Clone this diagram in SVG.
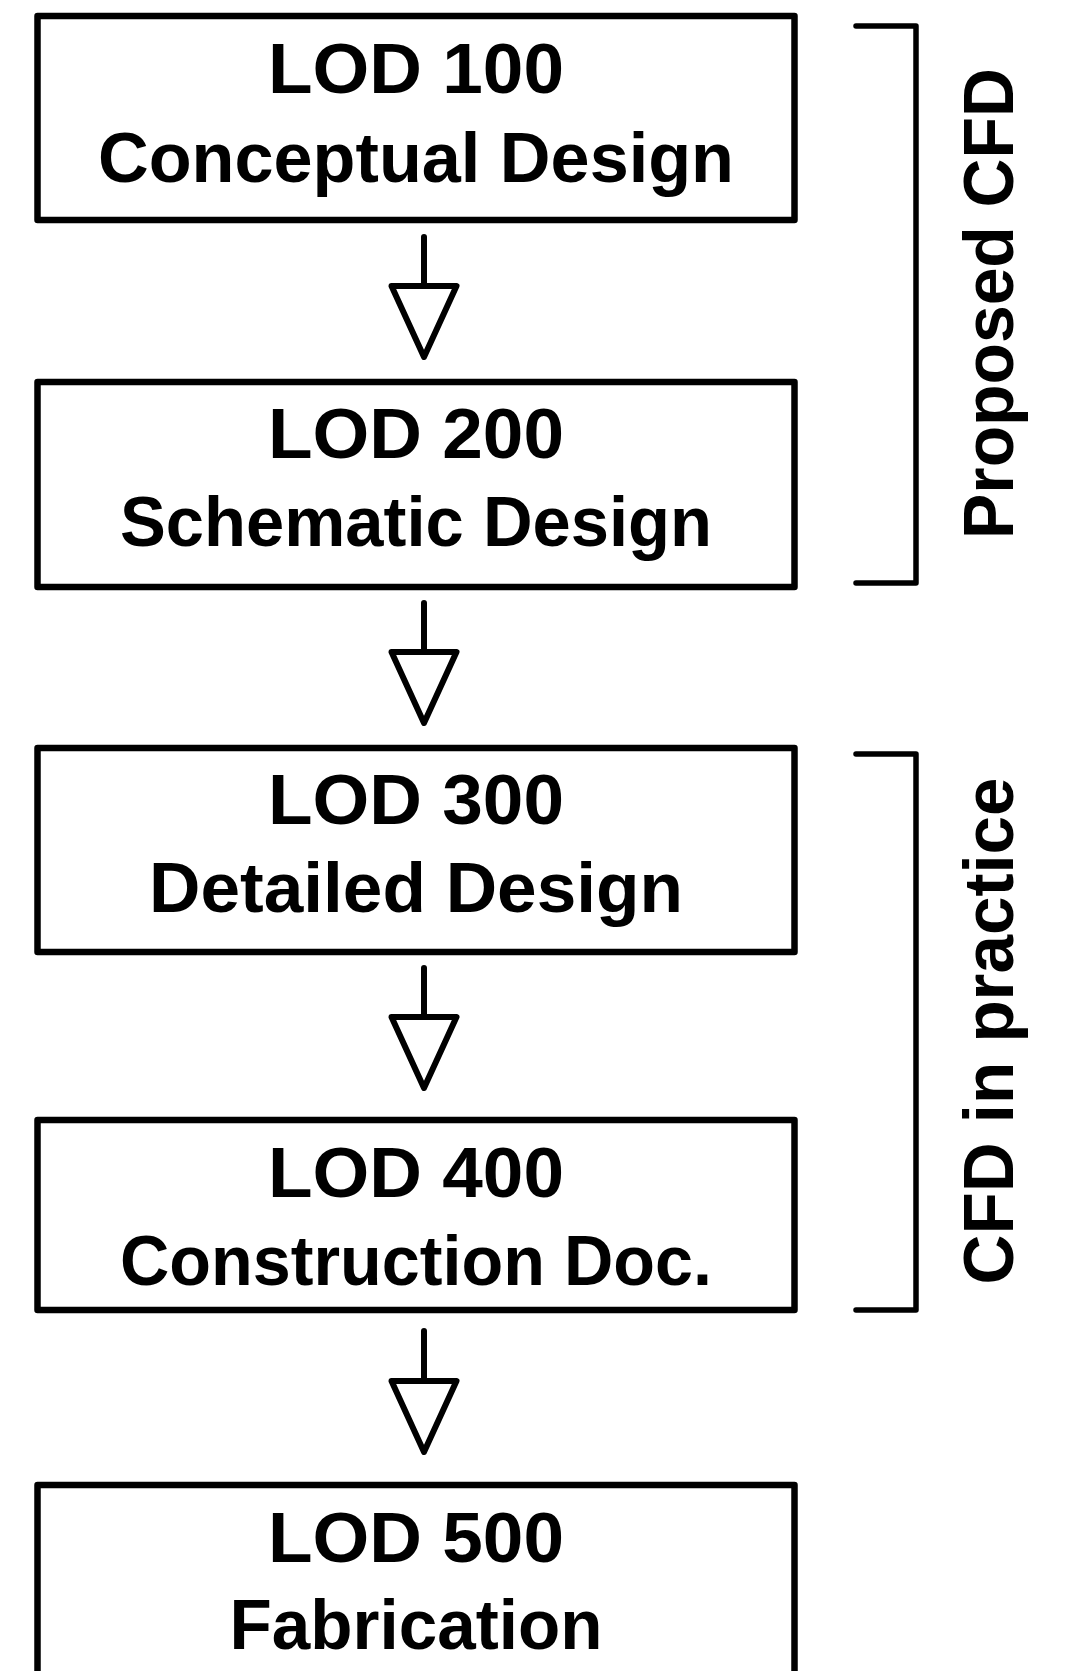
<svg xmlns="http://www.w3.org/2000/svg" width="1077" height="1671" viewBox="0 0 1077 1671">
  <style>
    .box { fill: #ffffff; stroke: #000000; stroke-width: 6.5; stroke-linejoin: round; }
    .lbl { font-family: "Liberation Sans", Arial, sans-serif; font-weight: bold; font-size: 70px; fill: #000000; text-anchor: middle; }
    .stem { stroke: #000000; stroke-width: 6; stroke-linecap: round; fill: none; }
    .bracket { stroke: #000000; stroke-width: 5.5; stroke-linecap: round; stroke-linejoin: round; fill: none; }
  </style>
  <defs>
    <!-- open triangular arrowhead, drawn below the end of each stem -->
    <marker id="openHead" markerUnits="userSpaceOnUse" orient="auto" refX="0" refY="0" markerWidth="100" markerHeight="100" overflow="visible">
      <path d="M0,-32.5 L0,32.5 L71,0 Z" fill="#ffffff" stroke="#000000" stroke-width="6" stroke-linejoin="round"/>
    </marker>
  </defs>
  <rect width="1077" height="1671" fill="#ffffff"/>

  <g id="lod100">
    <rect class="box" x="37.5" y="16" width="757" height="204"/>
    <text class="lbl" x="416" y="93" textLength="296" lengthAdjust="spacingAndGlyphs">LOD 100</text>
    <text class="lbl" x="416" y="182" textLength="636" lengthAdjust="spacingAndGlyphs">Conceptual Design</text>
  </g>

  <g id="lod200">
    <rect class="box" x="37.5" y="382" width="757" height="205"/>
    <text class="lbl" x="416" y="458" textLength="296" lengthAdjust="spacingAndGlyphs">LOD 200</text>
    <text class="lbl" x="416" y="546" textLength="592" lengthAdjust="spacingAndGlyphs">Schematic Design</text>
  </g>

  <g id="lod300">
    <rect class="box" x="37.5" y="748" width="757" height="204"/>
    <text class="lbl" x="416" y="824" textLength="296" lengthAdjust="spacingAndGlyphs">LOD 300</text>
    <text class="lbl" x="416" y="912" textLength="534" lengthAdjust="spacingAndGlyphs">Detailed Design</text>
  </g>

  <g id="lod400">
    <rect class="box" x="37.5" y="1120" width="757" height="190"/>
    <text class="lbl" x="416" y="1197" textLength="296" lengthAdjust="spacingAndGlyphs">LOD 400</text>
    <text class="lbl" x="416" y="1285" textLength="592" lengthAdjust="spacingAndGlyphs">Construction Doc.</text>
  </g>

  <g id="lod500">
    <rect class="box" x="37.5" y="1485" width="757" height="240"/>
    <text class="lbl" x="416" y="1562" textLength="296" lengthAdjust="spacingAndGlyphs">LOD 500</text>
    <text class="lbl" x="416" y="1649" textLength="373" lengthAdjust="spacingAndGlyphs">Fabrication</text>
  </g>

  <g id="connectors">
    <line class="stem" x1="424" y1="237" x2="424" y2="286" marker-end="url(#openHead)"/>
    <line class="stem" x1="424" y1="603" x2="424" y2="652" marker-end="url(#openHead)"/>
    <line class="stem" x1="424" y1="968" x2="424" y2="1017" marker-end="url(#openHead)"/>
    <line class="stem" x1="424" y1="1331" x2="424" y2="1381" marker-end="url(#openHead)"/>
  </g>

  <g id="proposed-cfd">
    <path class="bracket" d="M856,26 L916,26 L916,583 L856,583"/>
    <text class="lbl" transform="translate(1013,303.5) rotate(-90)" x="0" y="0" textLength="471" lengthAdjust="spacingAndGlyphs">Proposed CFD</text>
  </g>

  <g id="cfd-in-practice">
    <path class="bracket" d="M856,754 L916,754 L916,1310 L856,1310"/>
    <text class="lbl" transform="translate(1013,1031) rotate(-90)" x="0" y="0" textLength="507" lengthAdjust="spacingAndGlyphs">CFD in practice</text>
  </g>
</svg>
